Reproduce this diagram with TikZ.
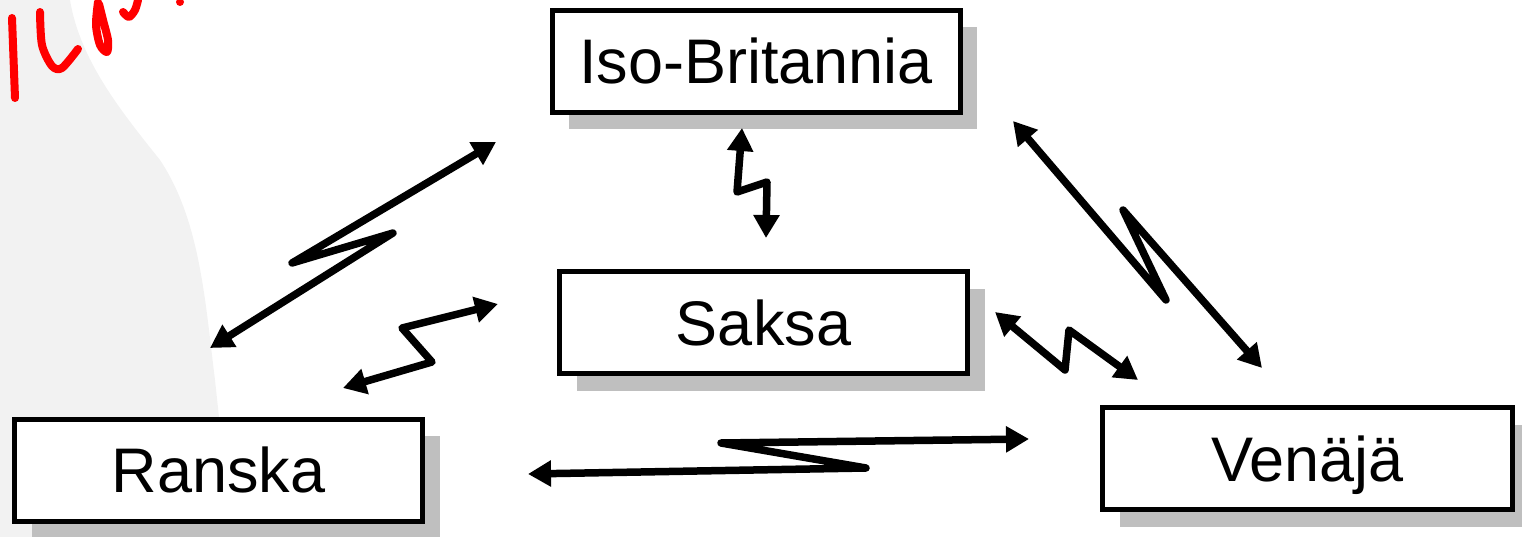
\documentclass[tikz,border=0pt]{standalone}
\usepackage{fontspec}
\setmainfont{Liberation Sans}
\usetikzlibrary{arrows.meta,shadows}
\tikzset{
  country/.style={draw=black, line width=5pt, fill=white, minimum width=408pt, minimum height=102pt,
    inner sep=0pt, text height=45pt, text depth=0pt,
    font=\fontsize{63}{70}\selectfont,
    drop shadow={shadow xshift=17pt, shadow yshift=-17pt, fill=black!25, opacity=1}},
  conn/.style={line width=7.5pt, line join=round, line cap=round,
    {Triangle[length=23pt,width=25pt]}-{Triangle[length=23pt,width=25pt]}},
  scribble/.style={red, line width=8pt, line cap=round, line join=round},
}
\begin{document}
\begin{tikzpicture}[x=1pt,y=-1pt]
\useasboundingbox (0,0) rectangle (1522,537);
% faded background photo
\fill[black!5] (0,0) -- (70,0) .. controls (80,60) and (120,110) .. (160,160)
  .. controls (200,220) and (205,300) .. (215,380) -- (232,537) -- (0,537) -- cycle;
% red handwriting
\draw[scribble] (12,18) -- (15,98);
\draw[scribble] plot[smooth] coordinates {(40,12) (42,45) (52,66) (62,68) (78,49)};
\draw[scribble] plot[smooth] coordinates {(98,2) (96,25) (100,45) (107,52) (108,40) (103,20) (99,4)};
\draw[scribble] plot[smooth] coordinates {(123,12) (129,17) (135,10) (138,0)};
\fill[red] (180,2) circle (4pt);
% countries
\node[country] (gb) at (756,61.5) {Iso-Britannia};
\node[country] (de) at (763.5,322.5) {Saksa};
\node[country] (fr) at (218.5,470) {Ranska};
\node[country, minimum width=410pt] (ru) at (1307.5,458.5) {Venäjä};
% connector end points
\coordinate (frA) at (210,348);  \coordinate (gbA) at (496,142);
\coordinate (frB) at (343,388);  \coordinate (deB) at (498,304);
\coordinate (gbC) at (742,128);  \coordinate (deC) at (766,238);
\coordinate (gbD) at (1013,121); \coordinate (ruD) at (1262,368);
\coordinate (deE) at (995,312);  \coordinate (ruE) at (1138,380);
\coordinate (frF) at (528,474);  \coordinate (ruF) at (1029,439);
% connectors
\draw[conn] (frA) -- (393,233) -- (292,263) -- (gbA);
\draw[conn] (frB) -- (432,362) -- (402,328) -- (deB);
\draw[conn] (gbC) -- (737,192) -- (767,182) -- (deC);
\draw[conn] (gbD) -- (1166,300) -- (1123,210) -- (ruD);
\draw[conn] (deE) -- (1065,370) -- (1069,330) -- (ruE);
\draw[conn] (frF) -- (866,468) -- (721,443) -- (ruF);
\end{tikzpicture}
\end{document}
